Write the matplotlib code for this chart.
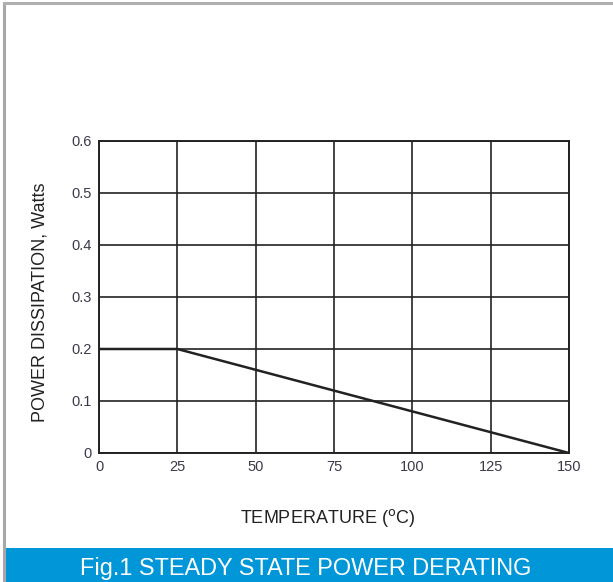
import matplotlib.pyplot as plt
from matplotlib.patches import Rectangle
from matplotlib.lines import Line2D

# derating curve
temps = [0, 25, 150]
power = [0.2, 0.2, 0.0]
x_ticks = [0, 25, 50, 75, 100, 125, 150]
y_ticks = [0, 0.1, 0.2, 0.3, 0.4, 0.5, 0.6]
y_tick_labels = ["0", "0.1", "0.2", "0.3", "0.4", "0.5", "0.6"]

W, H = 613, 582
fig = plt.figure(figsize=(W / 100, H / 100), dpi=100)
fig.patch.set_facecolor("white")

# page frame and blue caption banner
fig.add_artist(Line2D([4 / W, 4 / W], [0, 1 - 3 / H], color="#a8a8a8", lw=2.2))
fig.add_artist(Line2D([4 / W, 1], [1 - 3 / H, 1 - 3 / H], color="#b0b0b0", lw=2.2))
fig.add_artist(Rectangle((6 / W, 0), 1 - 6 / W, 34 / H, facecolor="#0096d8",
                         edgecolor="none"))
fig.text(306 / W, 14 / H, "Fig.1 STEADY STATE POWER DERATING", color="white",
         fontsize=16.9, family="Liberation Sans", ha="center", va="center")

ax = fig.add_axes([99 / W, 129 / H, 470 / W, 312 / H])
ax.plot(temps, power, color="#222222", lw=1.8)
ax.set_xlim(0, 150)
ax.set_ylim(0, 0.6)
ax.set_xticks(x_ticks)
ax.set_yticks(y_ticks)
ax.set_yticklabels(y_tick_labels)
ax.grid(True, color="#222222", lw=1.2)
for s in ax.spines.values():
    s.set_color("#222222")
    s.set_linewidth(1.4)
ax.tick_params(length=0, pad=5, labelsize=10.5, labelcolor="#3a3a4a")
for lab in ax.get_xticklabels() + ax.get_yticklabels():
    lab.set_family(["Liberation Sans Narrow", "Liberation Sans"])

fig.text(328 / W, 64 / H, "TEMPERATURE ($^{\\mathsf{o}}$C)", color="#222222",
         fontsize=13, family="Liberation Sans", ha="center", va="center")
fig.text(40 / W, 280 / H, "POWER DISSIPATION, Watts", color="#222222",
         fontsize=13, family="Liberation Sans", ha="center", va="center",
         rotation=90)

fig.savefig("out.png", dpi=100)
